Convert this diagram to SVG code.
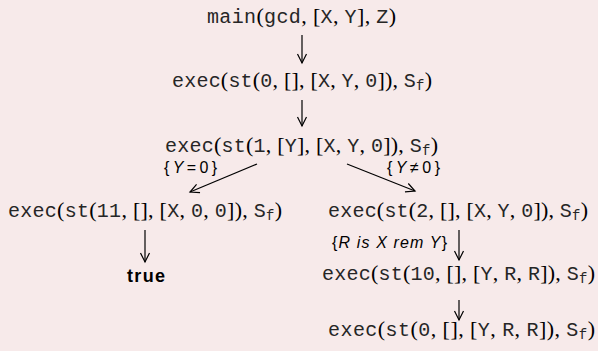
<svg xmlns="http://www.w3.org/2000/svg" width="598" height="351" viewBox="0 0 598 351">
<defs>
<style>
.m{font-family:"Liberation Mono",monospace;font-size:20px;fill:#262626}
.p{font-family:"Liberation Serif",serif;font-size:22px;fill:#000}
.s{font-size:14px}
.l{font-family:"Liberation Sans",sans-serif;font-size:16px;fill:#000}
.i{font-style:italic}
.b{font-family:"Liberation Sans",sans-serif;font-size:18px;font-weight:bold;fill:#000}
.e{stroke:#000;stroke-width:1.2;fill:none;marker-end:url(#ah)}
</style>
<marker id="ah" markerUnits="userSpaceOnUse" markerWidth="14" markerHeight="14" viewBox="-11 -7 14 14" refX="0" refY="0" orient="auto">
<path d="M-9,-4.5 Q-2,-1 0,0 Q-2,1 -9,4.5" fill="none" stroke="#000" stroke-width="1.2"/>
</marker>
</defs>
<rect width="598" height="351" fill="#f7eaea"/>
<g id="connectors">
<line class="e" x1="302" y1="35" x2="302" y2="63"/>
<line class="e" x1="302" y1="100" x2="302" y2="126"/>
<line class="e" x1="257" y1="164" x2="190" y2="192"/>
<line class="e" x1="347" y1="164" x2="415" y2="191"/>
<line class="e" x1="145" y1="230" x2="145" y2="262"/>
<line class="e" x1="459" y1="230" x2="459" y2="260"/>
<line class="e" x1="459" y1="300" x2="459" y2="320"/>
</g>
<g id="main">
<text class="m" x="207" y="23" textLength="189" lengthAdjust="spacing">main<tspan class="p">(</tspan>gcd<tspan class="p">, [</tspan>X<tspan class="p">, </tspan>Y<tspan class="p">], </tspan>Z<tspan class="p">)</tspan></text>
</g>
<g id="s0">
<text class="m" x="172" y="87" textLength="260" lengthAdjust="spacing">exec<tspan class="p">(</tspan>st<tspan class="p">(</tspan>0<tspan class="p">, [], [</tspan>X<tspan class="p">, </tspan>Y<tspan class="p">, </tspan>0<tspan class="p">]), </tspan>S<tspan class="s" dy="3">f</tspan><tspan class="p" dy="-3">)</tspan></text>
</g>
<g id="s1">
<text class="m" x="165" y="152" textLength="273" lengthAdjust="spacing">exec<tspan class="p">(</tspan>st<tspan class="p">(</tspan>1<tspan class="p">, [</tspan>Y<tspan class="p">], [</tspan>X<tspan class="p">, </tspan>Y<tspan class="p">, </tspan>0<tspan class="p">]), </tspan>S<tspan class="s" dy="3">f</tspan><tspan class="p" dy="-3">)</tspan></text>
</g>
<g id="labels">
<text class="l" x="164" y="173" textLength="53" lengthAdjust="spacing">{<tspan class="i">Y</tspan>=0}</text>
<text class="l" x="387" y="173" textLength="53" lengthAdjust="spacing">{<tspan class="i">Y</tspan>≠0}</text>
<text class="l" x="332" y="248" textLength="115" lengthAdjust="spacing">{<tspan class="i">R is X rem Y</tspan>}</text>
</g>
<g id="s11">
<text class="m" x="8" y="217" textLength="274" lengthAdjust="spacing">exec<tspan class="p">(</tspan>st<tspan class="p">(</tspan>11<tspan class="p">, [], [</tspan>X<tspan class="p">, </tspan>0<tspan class="p">, </tspan>0<tspan class="p">]), </tspan>S<tspan class="s" dy="3">f</tspan><tspan class="p" dy="-3">)</tspan></text>
</g>
<g id="true">
<text class="b" x="127" y="282" textLength="38" lengthAdjust="spacing">true</text>
</g>
<g id="s2">
<text class="m" x="328" y="217" textLength="260" lengthAdjust="spacing">exec<tspan class="p">(</tspan>st<tspan class="p">(</tspan>2<tspan class="p">, [], [</tspan>X<tspan class="p">, </tspan>Y<tspan class="p">, </tspan>0<tspan class="p">]), </tspan>S<tspan class="s" dy="3">f</tspan><tspan class="p" dy="-3">)</tspan></text>
</g>
<g id="s10">
<text class="m" x="322" y="280" textLength="273" lengthAdjust="spacing">exec<tspan class="p">(</tspan>st<tspan class="p">(</tspan>10<tspan class="p">, [], [</tspan>Y<tspan class="p">, </tspan>R<tspan class="p">, </tspan>R<tspan class="p">]), </tspan>S<tspan class="s" dy="3">f</tspan><tspan class="p" dy="-3">)</tspan></text>
</g>
<g id="s0b">
<text class="m" x="328" y="336" textLength="267" lengthAdjust="spacing">exec<tspan class="p">(</tspan>st<tspan class="p">(</tspan>0<tspan class="p">, [], [</tspan>Y<tspan class="p">, </tspan>R<tspan class="p">, </tspan>R<tspan class="p">]), </tspan>S<tspan class="s" dy="3">f</tspan><tspan class="p" dy="-3">)</tspan></text>
</g>
</svg>
